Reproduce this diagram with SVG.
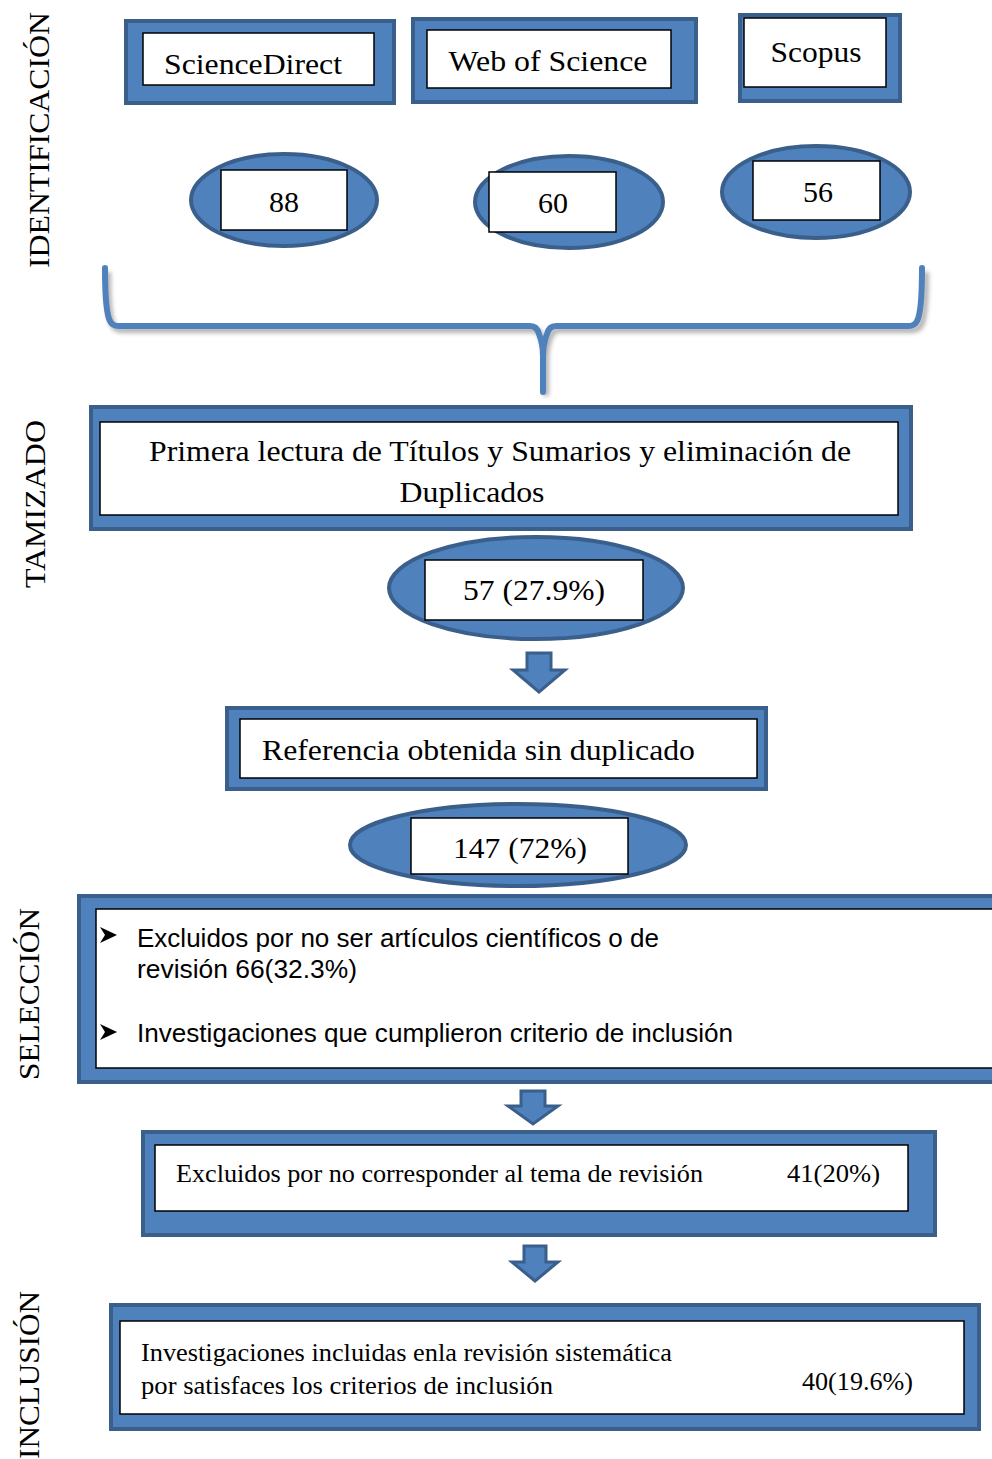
<svg xmlns="http://www.w3.org/2000/svg" width="992" height="1459" viewBox="0 0 992 1459">
<style>
.outer{fill:#4F81BD;stroke:#3A5F8B;stroke-width:4}
.inner{fill:#fff;stroke:#000;stroke-width:1.5}
.ell{fill:#4F81BD;stroke:#3A5F8B;stroke-width:4}
.arrow{fill:#4F81BD;stroke:#3A5F8B;stroke-width:3;stroke-linejoin:miter}
.bullet{fill:#000}
.serif{font-family:"Liberation Serif","Times New Roman",serif;fill:#000}
.sans{font-family:"Liberation Sans",Arial,sans-serif;fill:#000}
.side{font-family:"Liberation Serif","Times New Roman",serif;font-size:29px;fill:#000;text-anchor:middle}
</style>
<defs>
<filter id="sh" x="-5%" y="-20%" width="110%" height="140%"><feGaussianBlur stdDeviation="2"/></filter>
</defs>
<rect width="992" height="1459" fill="#fff"/>

<g id="labels">
<text class="side" transform="translate(49,140) rotate(-90)" textLength="256" lengthAdjust="spacingAndGlyphs">IDENTIFICACIÓN</text>
<text class="side" transform="translate(45,504) rotate(-90)" textLength="168" lengthAdjust="spacingAndGlyphs">TAMIZADO</text>
<text class="side" transform="translate(39,994) rotate(-90)" textLength="172" lengthAdjust="spacingAndGlyphs">SELECCIÓN</text>
<text class="side" transform="translate(39,1375) rotate(-90)" textLength="168" lengthAdjust="spacingAndGlyphs">INCLUSIÓN</text>
</g>

<g id="sciencedirect">
<rect class="outer" x="126" y="21" width="268" height="82"/>
<rect class="inner" x="143" y="33" width="231" height="52"/>
<text class="serif" x="253" y="74" font-size="29" text-anchor="middle" textLength="178" lengthAdjust="spacingAndGlyphs">ScienceDirect</text>
</g>
<g id="webofscience">
<rect class="outer" x="413" y="19" width="283" height="83"/>
<rect class="inner" x="427" y="30" width="244" height="58"/>
<text class="serif" x="548" y="71" font-size="29" text-anchor="middle" textLength="199" lengthAdjust="spacingAndGlyphs">Web of Science</text>
</g>
<g id="scopus">
<rect class="outer" x="740" y="15" width="160" height="86"/>
<rect class="inner" x="744" y="18" width="142" height="69"/>
<text class="serif" x="816" y="62" font-size="29" text-anchor="middle" textLength="91" lengthAdjust="spacingAndGlyphs">Scopus</text>
</g>

<g id="n88">
<ellipse class="ell" cx="284" cy="200" rx="93" ry="46"/>
<rect class="inner" x="221" y="170" width="126" height="60"/>
<text class="serif" x="284" y="212" font-size="30" text-anchor="middle">88</text>
</g>
<g id="n60">
<ellipse class="ell" cx="569" cy="202" rx="94" ry="46"/>
<rect class="inner" x="489" y="172" width="127" height="60"/>
<text class="serif" x="553" y="213" font-size="30" text-anchor="middle">60</text>
</g>
<g id="n56">
<ellipse class="ell" cx="816" cy="192" rx="94" ry="46"/>
<rect class="inner" x="753" y="161" width="127" height="59"/>
<text class="serif" x="818" y="202" font-size="30" text-anchor="middle">56</text>
</g>

<g id="connectors">
<path d="M108,272 C108,300 109,318 113,325 Q115,330 122,330 L533,330 Q540,330 542,338 Q546,348 546,360 L546,396 M926,272 C926,300 925,318 921,325 Q919,330 912,330 L559,330 Q552,330 550,338 Q546,348 546,360" fill="none" stroke="#000" stroke-opacity="0.3" stroke-width="6" filter="url(#sh)"/>
<path d="M105,268 C105,296 106,314 110,321 Q112,326 119,326 L530,326 Q537,326 539,334 Q543,344 543,356 L543,392 M922,268 C922,296 921,314 917,321 Q915,326 908,326 L556,326 Q549,326 547,334 Q543,344 543,356" fill="none" stroke="#4F81BD" stroke-width="6" stroke-linecap="round" stroke-linejoin="round"/>
<polygon class="arrow" points="527,653 551,653 551,670 565,670 539,692 513,670 527,670"/>
<polygon class="arrow" points="521,1091 545,1091 545,1106 558,1106 533,1124 508,1106 521,1106"/>
<polygon class="arrow" points="524,1246 546,1246 546,1262 558,1262 535,1281 512,1262 524,1262"/>
</g>

<g id="tamizado">
<rect class="outer" x="91" y="407" width="820" height="122"/>
<rect class="inner" x="100" y="422" width="798" height="93"/>
<text class="serif" x="500" y="461" font-size="29" text-anchor="middle" textLength="702" lengthAdjust="spacingAndGlyphs">Primera lectura de Títulos y Sumarios y eliminación de</text>
<text class="serif" x="472" y="502" font-size="29" text-anchor="middle" textLength="145" lengthAdjust="spacingAndGlyphs">Duplicados</text>
</g>

<g id="n57">
<ellipse class="ell" cx="536" cy="588" rx="147" ry="51"/>
<rect class="inner" x="425" y="560" width="218" height="60"/>
<text class="serif" x="534" y="600" font-size="29" text-anchor="middle" textLength="142" lengthAdjust="spacingAndGlyphs">57 (27.9%)</text>
</g>

<g id="referencia">
<rect class="outer" x="227" y="708" width="539" height="81"/>
<rect class="inner" x="240" y="719" width="517" height="59"/>
<text class="serif" x="262" y="760" font-size="29" textLength="433" lengthAdjust="spacingAndGlyphs">Referencia obtenida sin duplicado</text>
</g>

<g id="n147">
<ellipse class="ell" cx="518" cy="845" rx="168" ry="41"/>
<rect class="inner" x="411" y="818" width="217" height="56"/>
<text class="serif" x="520" y="858" font-size="29" text-anchor="middle" textLength="134" lengthAdjust="spacingAndGlyphs">147 (72%)</text>
</g>

<g id="seleccion">
<rect class="outer" x="79" y="896" width="920" height="186"/>
<rect class="inner" x="96" y="909" width="900" height="159"/>
<polygon class="bullet" points="100,927 117,935 100,943 105,935"/>
<text class="sans" x="137" y="947" font-size="25" textLength="522" lengthAdjust="spacingAndGlyphs">Excluidos por no ser artículos científicos o de</text>
<text class="sans" x="137" y="978" font-size="25" textLength="220" lengthAdjust="spacingAndGlyphs">revisión 66(32.3%)</text>
<polygon class="bullet" points="100,1024 117,1032 100,1040 105,1032"/>
<text class="sans" x="137" y="1042" font-size="25" textLength="596" lengthAdjust="spacingAndGlyphs">Investigaciones que cumplieron criterio de inclusión</text>
</g>

<g id="excluidos">
<rect class="outer" x="143" y="1132" width="792" height="103"/>
<rect class="inner" x="155" y="1145" width="753" height="66"/>
<text class="serif" x="176" y="1182" font-size="25" textLength="527" lengthAdjust="spacingAndGlyphs">Excluidos por no corresponder al tema de revisión</text>
<text class="serif" x="787" y="1182" font-size="25" textLength="93" lengthAdjust="spacingAndGlyphs">41(20%)</text>
</g>

<g id="inclusion">
<rect class="outer" x="111" y="1305" width="868" height="124"/>
<rect class="inner" x="120" y="1321" width="844" height="93"/>
<text class="serif" x="141" y="1361" font-size="25" textLength="531" lengthAdjust="spacingAndGlyphs">Investigaciones incluidas enla revisión sistemática</text>
<text class="serif" x="141" y="1394" font-size="25" textLength="412" lengthAdjust="spacingAndGlyphs">por satisfaces los criterios de inclusión</text>
<text class="serif" x="802" y="1390" font-size="25" textLength="111" lengthAdjust="spacingAndGlyphs">40(19.6%)</text>
</g>
</svg>
